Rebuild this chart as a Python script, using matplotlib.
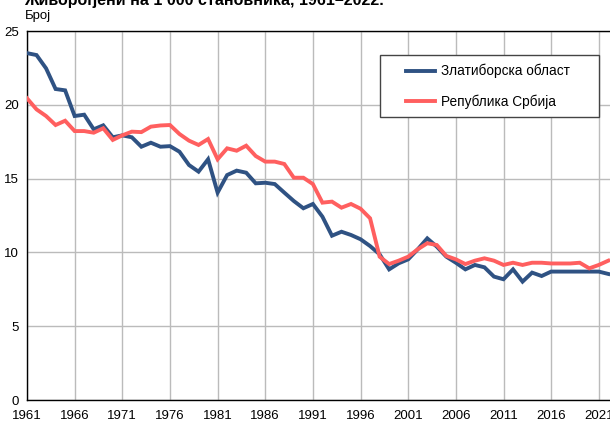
import matplotlib
matplotlib.use("Agg")
import matplotlib.pyplot as plt
from matplotlib.ticker import MultipleLocator
from matplotlib.patches import Rectangle

plt.rcParams['font.family'] = ['Liberation Sans', 'DejaVu Sans']

years = list(range(1961, 2023))

zlatiborska = [23.5, 23.37, 22.47, 21.07, 20.98, 19.24, 19.33, 18.34, 18.61, 17.80,
               17.93, 17.80, 17.16, 17.43, 17.16, 17.20, 16.82, 15.92, 15.47, 16.31,
               14.05, 15.24, 15.54, 15.40, 14.68, 14.72, 14.63, 14.05, 13.48, 12.99,
               13.28, 12.42, 11.13, 11.40, 11.18, 10.89, 10.43, 9.87, 8.85, 9.26,
               9.53, 10.21, 10.95, 10.39, 9.71, 9.30, 8.85, 9.15, 8.99, 8.36,
               8.18, 8.85, 8.02, 8.63, 8.40, 8.70, 8.70, 8.70, 8.70, 8.70,
               8.70, 8.54]

srbija = [20.44, 19.69, 19.24, 18.63, 18.92, 18.22, 18.22, 18.11, 18.41, 17.62,
          17.93, 18.18, 18.15, 18.52, 18.60, 18.63, 18.02, 17.57, 17.28, 17.68,
          16.31, 17.05, 16.89, 17.23, 16.53, 16.15, 16.15, 15.99, 15.06, 15.06,
          14.63, 13.37, 13.44, 13.03, 13.28, 12.96, 12.31, 9.71, 9.21, 9.44,
          9.71, 10.21, 10.62, 10.50, 9.76, 9.53, 9.21, 9.44, 9.60, 9.44,
          9.15, 9.30, 9.15, 9.30, 9.30, 9.25, 9.25, 9.25, 9.30, 8.92,
          9.15, 9.44]

labels = ["Златиборска област", "Република Србија"]
title = "Живорођени на 1 000 становника, 1961–2022."
ylabel = "Број"
xticks = list(range(1961, 2022 + 1, 5))

W, H = 610, 423
fig = plt.figure(figsize=(W/100, H/100), dpi=100)
ax = fig.add_axes([27/W, 23/H, 583/W, 369/H])

ax.plot(years, zlatiborska, color="#2F5283", lw=2.8, label=labels[0],
        solid_joinstyle='miter', zorder=3)
ax.plot(years, srbija, color="#FF5F5F", lw=2.8, label=labels[1],
        solid_joinstyle='miter', zorder=3)

ax.set_xlim(1961, 1961 + 583/9.53)
ax.set_ylim(0, 25)
ax.set_xticks(xticks)
ax.yaxis.set_major_locator(MultipleLocator(5))
ax.grid(True, color="#BBBBBB", lw=1.0)
ax.set_axisbelow(True)
for s in ['left', 'bottom', 'top']:
    ax.spines[s].set_color('black')
    ax.spines[s].set_linewidth(1.0)
ax.spines['right'].set_visible(False)
ax.tick_params(length=0, labelsize=9.5, colors='black', pad=6)
ax.tick_params(axis='x', pad=7)

# legend frame
box = Rectangle((380/W, 1 - 117/H), 219/W, 62/H, transform=fig.transFigure,
                facecolor='white', edgecolor='#444444', lw=1.0, zorder=4)
ax.add_patch(box)
box.set_clip_on(False)

leg = ax.legend(loc='upper left', bbox_to_anchor=(406/W, 1 - 64/H),
                bbox_transform=fig.transFigure, frameon=False,
                fontsize=9.8, handlelength=2.15, borderpad=0, labelspacing=1.2,
                borderaxespad=0, handletextpad=0.45)
leg.set_zorder(5)

fig.text(24/W, 1 - 5/H, title, fontsize=11.5, fontweight='bold', va='baseline', ha='left')
fig.text(25/W, 1 - 19/H, ylabel, fontsize=9.5, va='baseline', ha='left')

fig.savefig("out.png", dpi=100)
